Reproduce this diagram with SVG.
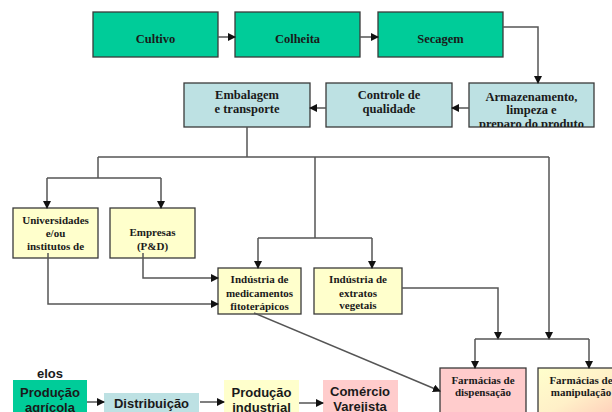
<svg xmlns="http://www.w3.org/2000/svg" width="612" height="412" viewBox="0 0 612 412">
<style>
.box{stroke:#3a3a3a;stroke-width:1.3}
.g{fill:#00CC99}
.b{fill:#BDE1E3}
.y{fill:#FFFFCC}
.p{fill:#FFCCCC}
.t{font-family:"Liberation Serif","Times New Roman",serif;font-weight:bold;font-size:12.5px;fill:#1a1a1a;text-anchor:middle}
.s{font-size:11px}
.l{font-family:"Liberation Sans",Arial,sans-serif;font-weight:bold;font-size:13px;fill:#1a1a1a;text-anchor:middle}
.c{fill:none;stroke:#555;stroke-width:1.5}
.ca{fill:none;stroke:#555;stroke-width:1.5;marker-end:url(#ah)}
</style>
<defs>
<marker id="ah" markerWidth="8" markerHeight="8" refX="7" refY="4" orient="auto" markerUnits="userSpaceOnUse">
<path d="M0,0 L8,4 L0,8 Z" fill="#111"/>
</marker>
<clipPath id="clipArm"><rect x="469" y="83" width="125" height="44"/></clipPath>
<linearGradient id="gm" x1="0" y1="0" x2="1" y2="1">
<stop offset="0" stop-color="#FFFFCC"/>
<stop offset="0.5" stop-color="#FFF0C8"/>
<stop offset="1" stop-color="#FFC8B8"/>
</linearGradient>
</defs>

<g id="cultivo"><rect class="box g" x="93" y="12" width="125" height="45"/><text class="t" x="155.5" y="43">Cultivo</text></g>
<g id="colheita"><rect class="box g" x="235" y="12" width="125" height="45"/><text class="t" x="297.5" y="43">Colheita</text></g>
<g id="secagem"><rect class="box g" x="378" y="12" width="125" height="45"/><text class="t" x="440.5" y="43">Secagem</text></g>

<g id="embalagem"><rect class="box b" x="184" y="83" width="126" height="44"/><text class="t" x="247" y="99">Embalagem</text><text class="t" x="247" y="113">e transporte</text></g>
<g id="controle"><rect class="box b" x="326" y="83" width="126" height="44"/><text class="t" x="389" y="99">Controle de</text><text class="t" x="389" y="113">qualidade</text></g>
<g id="armazenamento"><rect class="box b" x="469" y="83" width="125" height="44"/><g clip-path="url(#clipArm)"><text class="t" x="531.5" y="101">Armazenamento,</text><text class="t" x="531.5" y="114">limpeza e</text><text class="t" x="531.5" y="128">preparo do produto</text></g></g>

<g id="universidades"><rect class="box y" x="13" y="208" width="85" height="50"/><text class="t s" x="55.5" y="224">Universidades</text><text class="t s" x="55.5" y="237">e/ou</text><text class="t s" x="55.5" y="250">institutos de</text></g>
<g id="empresas"><rect class="box y" x="110" y="208" width="85" height="50"/><text class="t s" x="152.5" y="236">Empresas</text><text class="t s" x="152.5" y="250">(P&amp;D)</text></g>

<g id="medicamentos"><rect class="box y" x="218" y="268" width="83" height="46"/><text class="t s" x="259.5" y="283">Indústria de</text><text class="t s" x="259.5" y="297">medicamentos</text><text class="t s" x="259.5" y="310">fitoterápicos</text></g>
<g id="extratos"><rect class="box y" x="314" y="268" width="88" height="46"/><text class="t s" x="358" y="283">Indústria de</text><text class="t s" x="358" y="297">extratos</text><text class="t s" x="358" y="309">vegetais</text></g>

<g id="dispensacao"><rect class="box p" x="440" y="368" width="86" height="50"/><text class="t s" x="483" y="384">Farmácias de</text><text class="t s" x="483" y="396">dispensação</text></g>
<g id="manipulacao"><rect class="box" fill="url(#gm)" x="538" y="368" width="86" height="50"/><text class="t s" x="581" y="384">Farmácias de</text><text class="t s" x="581" y="396">manipulação</text></g>

<g id="legenda">
<text class="l" x="50" y="378">elos</text>
<g id="leg-producao-agricola"><rect class="g" x="13" y="380" width="74" height="40"/><text class="l" x="50" y="397">Produção</text><text class="l" x="50" y="412">agrícola</text></g>
<g id="leg-distribuicao"><rect class="b" x="104" y="393" width="95" height="25"/><text class="l" x="151.5" y="408">Distribuição</text></g>
<g id="leg-producao-industrial"><rect class="y" x="224" y="380" width="75" height="40"/><text class="l" x="261.5" y="397">Produção</text><text class="l" x="261.5" y="412">industrial</text></g>
<g id="leg-comercio"><rect class="p" x="323" y="380" width="75" height="40"/><text class="l" x="360" y="396">Comércio</text><text class="l" x="360" y="411">Varejista</text></g>
</g>

<g id="connectors">
<path class="ca" d="M218,37 H235"/>
<path class="ca" d="M360,37 H378"/>
<path class="ca" d="M503,27 H538 V83"/>
<path class="ca" d="M469,108 H452"/>
<path class="ca" d="M326,108 H310"/>
<path class="c" d="M247,127 V157"/>
<path class="c" d="M98,157 H549"/>
<path class="c" d="M98,157 V178"/>
<path class="c" d="M47,178 H161"/>
<path class="ca" d="M47,178 V208"/>
<path class="ca" d="M161,178 V208"/>
<path class="c" d="M315,157 V238"/>
<path class="c" d="M258,238 H372"/>
<path class="ca" d="M258,238 V268"/>
<path class="ca" d="M372,238 V268"/>
<path class="ca" d="M48,253 V304 H218"/>
<path class="ca" d="M143,253 V278 H218"/>
<path class="ca" d="M402,288 H498 V339"/>
<path class="ca" d="M549,157 V339"/>
<path class="c" d="M475,339 H589"/>
<path class="ca" d="M475,339 V368"/>
<path class="ca" d="M589,339 V368"/>
<path class="ca" d="M254,313 L440,391"/>
<path class="ca" d="M87,402 H104"/>
<path class="ca" d="M200,402 H224"/>
<path class="ca" d="M299,403 H323"/>
</g>
</svg>
